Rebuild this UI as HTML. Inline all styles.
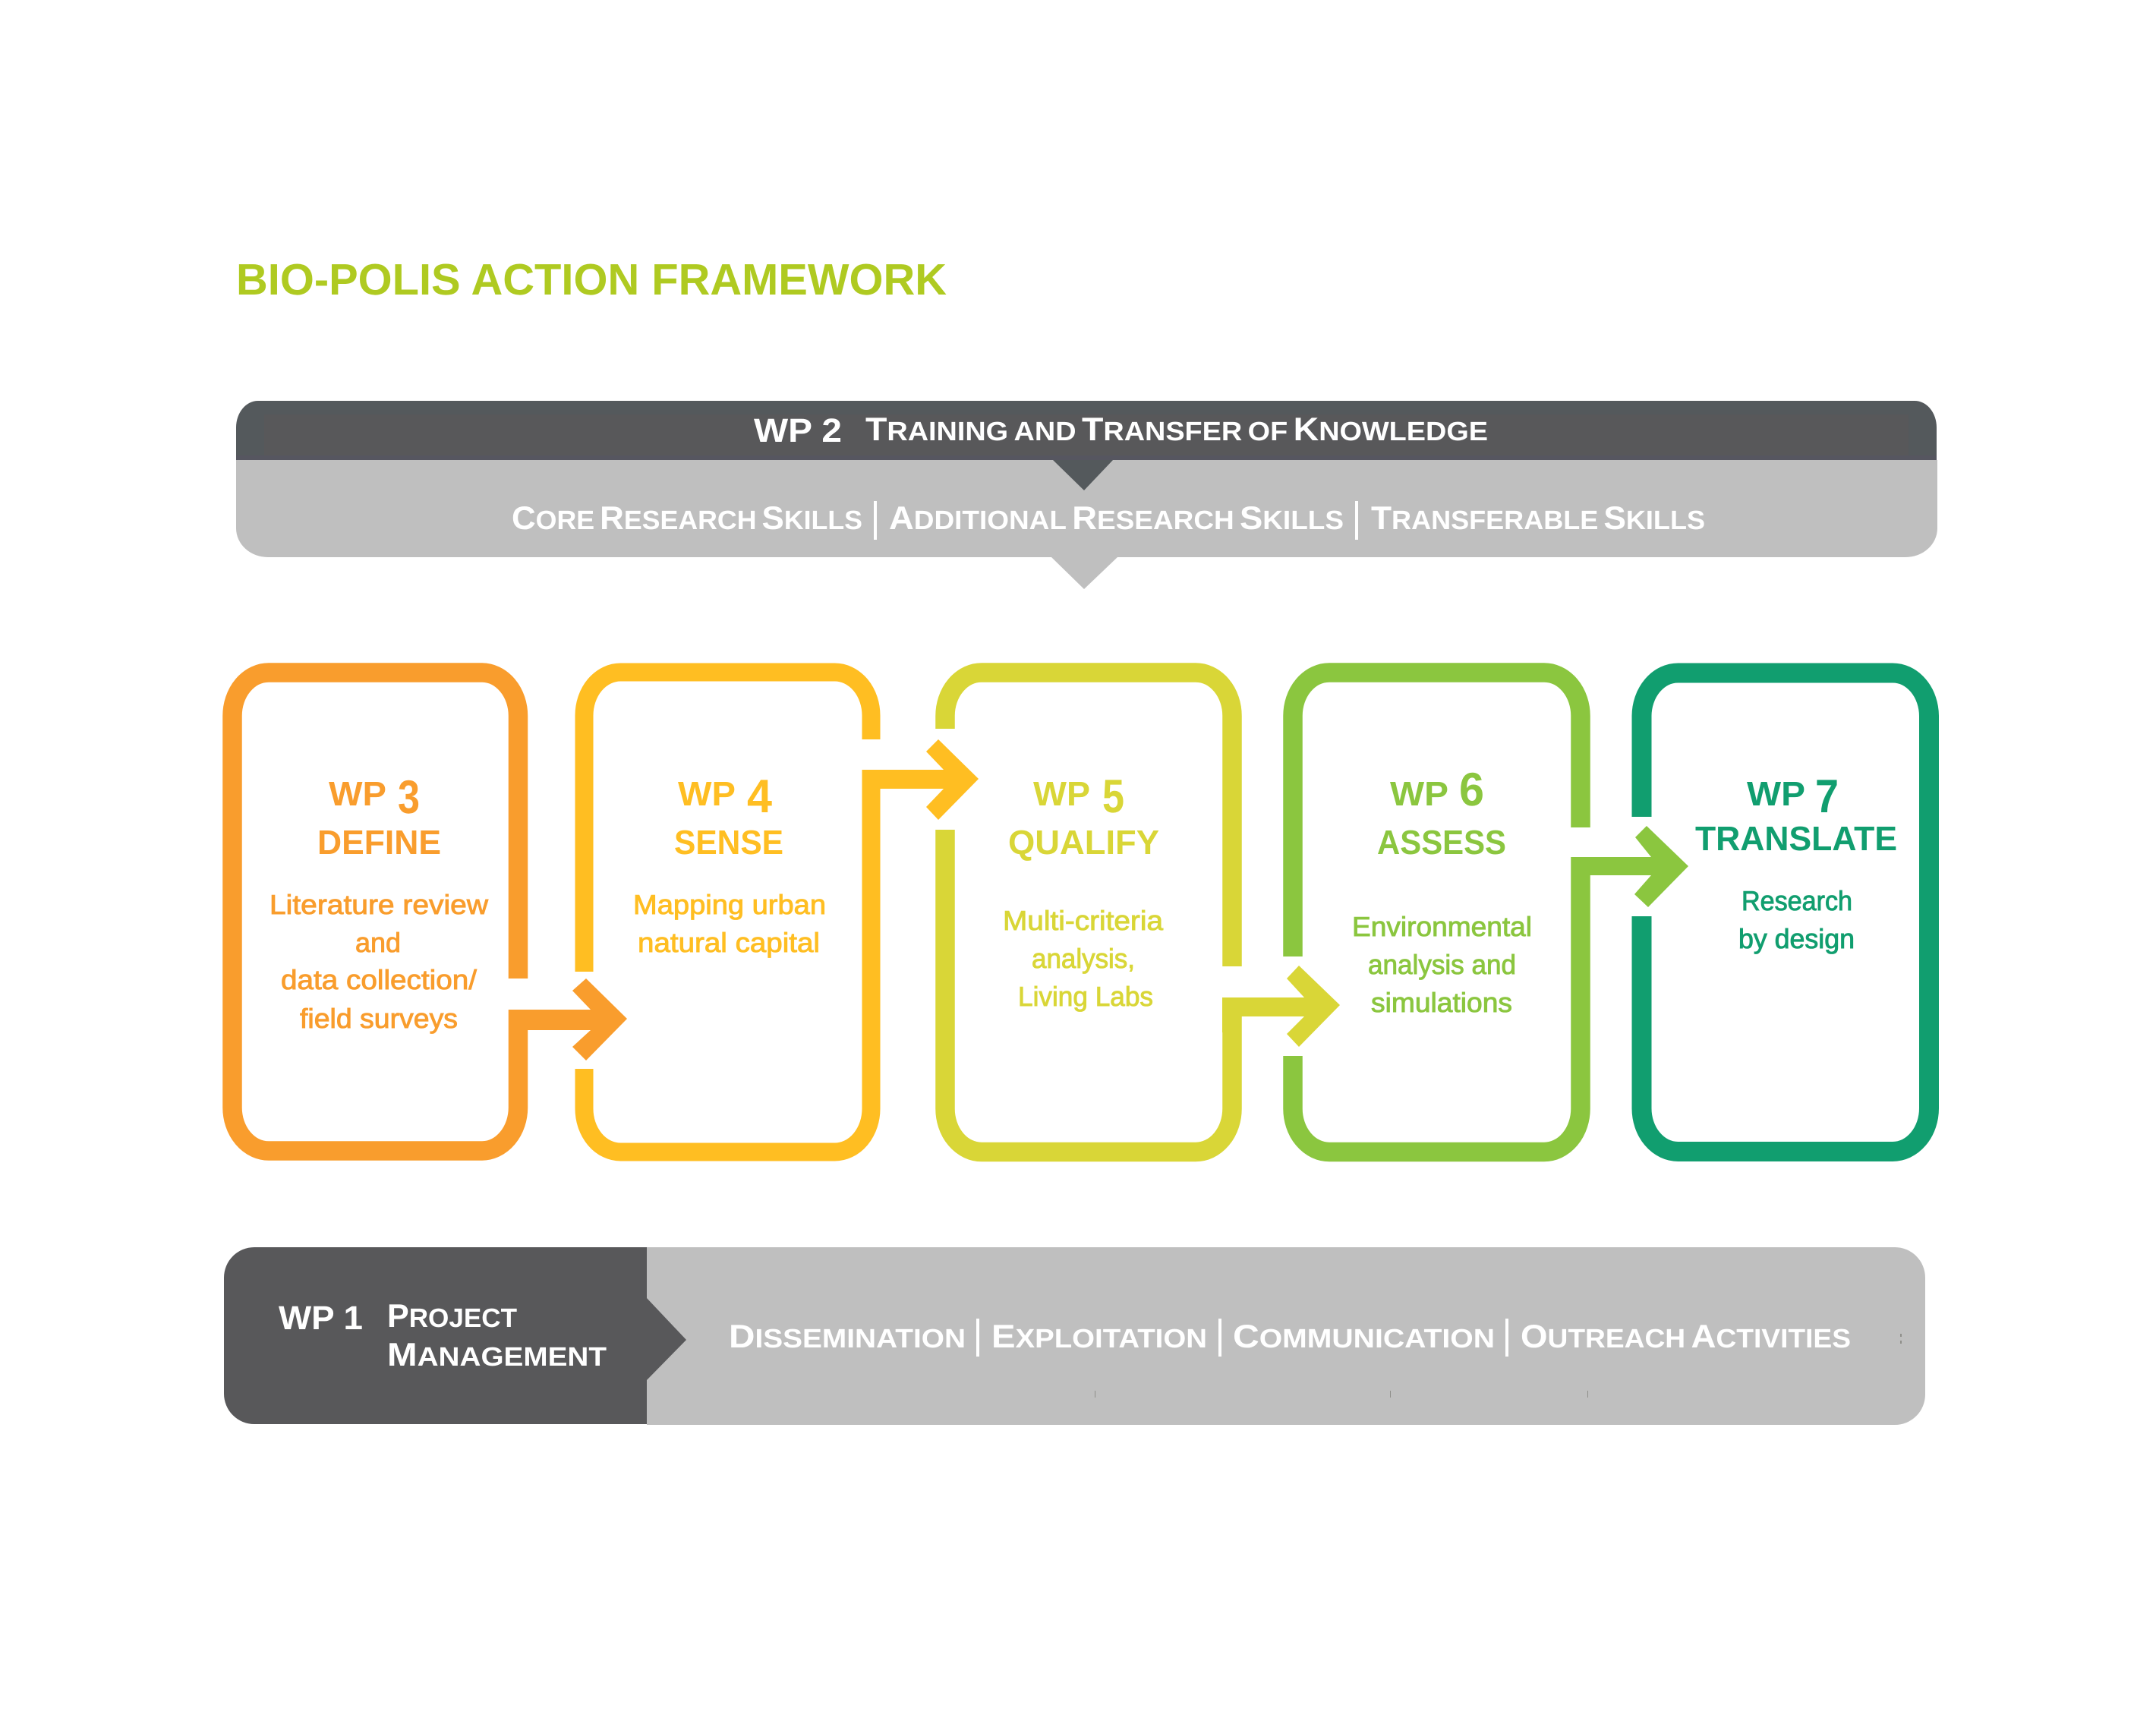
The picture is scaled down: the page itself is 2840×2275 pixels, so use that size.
<!DOCTYPE html>
<html lang="en">
<head>
<meta charset="utf-8">
<title>Bio-Polis Action Framework</title>
<style>
html,body{margin:0;padding:0;background:#fff;width:2840px;height:2275px;overflow:hidden}
svg{display:block}
text{font-family:"Liberation Sans",sans-serif;text-rendering:geometricPrecision}
.h{font-weight:700;font-size:45px}
.d{font-weight:700;font-size:62px}
.b{font-weight:400;font-size:36px;stroke-width:.9px}
.sc{font-weight:700;font-size:50px;font-variant:small-caps;fill:#fff;word-spacing:-7px}
.C{font-size:43px}
.wp{font-weight:700;font-size:44px;fill:#fff}
.o{fill:#f99d2d;stroke:#f99d2d}.y{fill:#ffbe22;stroke:#ffbe22}.l{fill:#d9d637;stroke:#d9d637}.g{fill:#8bc63f;stroke:#8bc63f}.t{fill:#119e6f;stroke:#119e6f}
.h,.d{stroke:none!important}
</style>
</head>
<body>
<svg xmlns="http://www.w3.org/2000/svg" width="2840" height="2275" viewBox="0 0 2840 2275">
<rect width="2840" height="2275" fill="#fff"/>

<text x="311" y="388" font-size="58" font-weight="700" fill="#afca21" textLength="936" lengthAdjust="spacingAndGlyphs">BIO-POLIS ACTION FRAMEWORK</text>

<!-- WP2 banner -->
<path d="M311 606V696A42 38 0 0 0 353 734H1385L1428 776L1472 734H2510A42 38 0 0 0 2552 696V606Z" fill="#bfbfbf"/>
<path d="M311 606V563A29 35 0 0 1 340 528H2522A29 35 0 0 1 2551 563V606H1466L1428 646L1387 606Z" fill="#54595c"/>
<rect x="348" y="546" width="2166" height="54" fill="#58585a"/>
<rect x="311" y="600" width="2240" height="6" fill="#565660"/>
<text class="wp" x="993" y="582" textLength="116" lengthAdjust="spacingAndGlyphs">WP 2</text>
<text class="sc" x="1140" y="580" textLength="820" lengthAdjust="spacingAndGlyphs"><tspan class="C">T</tspan>raining and <tspan class="C">T</tspan>ransfer of <tspan class="C">K</tspan>nowledge</text>
<text class="sc" x="674" y="697" textLength="462" lengthAdjust="spacingAndGlyphs"><tspan class="C">C</tspan>ore <tspan class="C">R</tspan>esearch <tspan class="C">S</tspan>kills</text>
<rect x="1151" y="660" width="4" height="51" fill="#fff"/>
<text class="sc" x="1171" y="697" textLength="599" lengthAdjust="spacingAndGlyphs"><tspan class="C">A</tspan>dditional <tspan class="C">R</tspan>esearch <tspan class="C">S</tspan>kills</text>
<rect x="1785" y="660" width="4" height="51" fill="#fff"/>
<text class="sc" x="1806" y="697" textLength="440" lengthAdjust="spacingAndGlyphs"><tspan class="C">T</tspan>ransferable <tspan class="C">S</tspan>kills</text>

<!-- Boxes -->
<g fill="none" stroke-width="25.5">
<path stroke="#f99d2d" d="M682.500 1289V943A48 57 0 0 0 634.500 886H354A48 57 0 0 0 306 943V1459A48 57 0 0 0 354 1516H634.500A48 57 0 0 0 682.500 1459V1330"/>
<path stroke="#ffbe22" stroke-width="24" d="M769.500 1280V943A48 57 0 0 1 817.500 885.500H1099.500A48 57 0 0 1 1147.500 943V974"/>
<path stroke="#ffbe22" stroke-width="24" d="M1147.500 1014V1460A48 57 0 0 1 1099.500 1517.500H817.500A48 57 0 0 1 769.500 1460V1408"/>
<path stroke="#d9d637" d="M1245 960V943A48 57 0 0 1 1293 886H1575A48 57 0 0 1 1623 943V1273"/>
<path stroke="#d9d637" d="M1623 1314V1460A48 57 0 0 1 1575 1517.500H1293A48 57 0 0 1 1245 1460V1093"/>
<path stroke="#8bc63f" d="M1703 1260V943A48 57 0 0 1 1751 886H2034A48 57 0 0 1 2082 943V1090"/>
<path stroke="#8bc63f" d="M2082 1129V1460A48 57 0 0 1 2034 1517.500H1751A48 57 0 0 1 1703 1460V1391"/>
<path stroke="#119e6f" stroke-width="26" d="M2162.500 1076V943A48 57 0 0 1 2210.500 886.500H2493A48 57 0 0 1 2541 943V1460A48 57 0 0 1 2493 1517H2210.500A48 57 0 0 1 2162.500 1460V1207"/>
</g>
<polygon fill="#f99d2d" points="670,1330 778,1330 754,1305 772,1289 826,1342 772,1397 754,1379 778,1357 695,1357 695,1380 670,1380"/>
<polygon fill="#ffbe22" points="1136,1014 1243,1014 1220,990 1236,974 1289,1026 1236,1080 1220,1063 1243,1039 1159,1039 1159,1060 1136,1060"/>
<polygon fill="#d9d637" points="1610,1314 1718,1314 1695,1289 1711,1272 1765,1324 1711,1379 1695,1362 1718,1339 1635,1339 1635,1360 1610,1360"/>
<polygon fill="#8bc63f" points="2070,1129 2175,1129 2154,1103 2169,1088 2224,1141 2171,1195 2153,1178 2175,1153 2094,1153 2094,1175 2070,1175"/>

<!-- box text -->
<text class="h o" x="433" y="1061" textLength="76" lengthAdjust="spacingAndGlyphs">WP</text>
<text class="d o" x="524" y="1071" textLength="29" lengthAdjust="spacingAndGlyphs">3</text>
<text class="h o" x="418" y="1125" textLength="163" lengthAdjust="spacingAndGlyphs">DEFINE</text>
<text class="b o" x="355" y="1204" textLength="288" lengthAdjust="spacingAndGlyphs">Literature review</text>
<text class="b o" x="468" y="1254" textLength="60" lengthAdjust="spacingAndGlyphs">and</text>
<text class="b o" x="370" y="1303" textLength="258" lengthAdjust="spacingAndGlyphs">data collection/</text>
<text class="b o" x="395" y="1354" textLength="208" lengthAdjust="spacingAndGlyphs">field surveys</text>

<text class="h y" x="893" y="1061" textLength="76" lengthAdjust="spacingAndGlyphs">WP</text>
<text class="d y" x="984" y="1070" textLength="33" lengthAdjust="spacingAndGlyphs">4</text>
<text class="h y" x="888" y="1125" textLength="144" lengthAdjust="spacingAndGlyphs">SENSE</text>
<text class="b y" x="834" y="1204" textLength="254" lengthAdjust="spacingAndGlyphs">Mapping urban</text>
<text class="b y" x="840" y="1254" textLength="240" lengthAdjust="spacingAndGlyphs">natural capital</text>

<text class="h l" x="1361" y="1061" textLength="75" lengthAdjust="spacingAndGlyphs">WP</text>
<text class="d l" x="1452" y="1070" textLength="29" lengthAdjust="spacingAndGlyphs">5</text>
<text class="h l" x="1328" y="1125" textLength="199" lengthAdjust="spacingAndGlyphs">QUALIFY</text>
<text class="b l" x="1321" y="1225" textLength="211" lengthAdjust="spacingAndGlyphs">Multi-criteria</text>
<text class="b l" x="1359" y="1275" textLength="136" lengthAdjust="spacingAndGlyphs">analysis,</text>
<text class="b l" x="1341" y="1325" textLength="178" lengthAdjust="spacingAndGlyphs">Living Labs</text>

<text class="h g" x="1831" y="1061" textLength="77" lengthAdjust="spacingAndGlyphs">WP</text>
<text class="d g" x="1922" y="1061" textLength="33" lengthAdjust="spacingAndGlyphs">6</text>
<text class="h g" x="1814" y="1125" textLength="170" lengthAdjust="spacingAndGlyphs">ASSESS</text>
<text class="b g" x="1781" y="1233" textLength="237" lengthAdjust="spacingAndGlyphs">Environmental</text>
<text class="b g" x="1802" y="1283" textLength="195" lengthAdjust="spacingAndGlyphs">analysis and</text>
<text class="b g" x="1806" y="1333" textLength="186" lengthAdjust="spacingAndGlyphs">simulations</text>

<text class="h t" x="2301" y="1061" textLength="77" lengthAdjust="spacingAndGlyphs">WP</text>
<text class="d t" x="2391" y="1070" textLength="31" lengthAdjust="spacingAndGlyphs">7</text>
<text class="h t" x="2233" y="1120" textLength="266" lengthAdjust="spacingAndGlyphs">TRANSLATE</text>
<text class="b t" x="2294" y="1199" textLength="146" lengthAdjust="spacingAndGlyphs">Research</text>
<text class="b t" x="2290" y="1249" textLength="153" lengthAdjust="spacingAndGlyphs">by design</text>

<!-- WP1 bar -->
<path d="M852 1643H2496A40 40 0 0 1 2536 1683V1837A40 40 0 0 1 2496 1877H852Z" fill="#bfbfbf"/>
<path d="M335 1643H852V1710L904 1765L852 1818V1876H335A40 40 0 0 1 295 1836V1683A40 40 0 0 1 335 1643Z" fill="#58585a"/>
<text class="wp" x="367" y="1751" textLength="111" lengthAdjust="spacingAndGlyphs">WP 1</text>
<text class="sc" x="510" y="1748" textLength="171" lengthAdjust="spacingAndGlyphs"><tspan class="C">P</tspan>roject</text>
<text class="sc" x="510" y="1799" textLength="289" lengthAdjust="spacingAndGlyphs"><tspan class="C">M</tspan>anagement</text>
<text class="sc" x="960" y="1775" textLength="312" lengthAdjust="spacingAndGlyphs"><tspan class="C">D</tspan>issemination</text>
<rect x="1286" y="1737" width="4" height="50" fill="#fff"/>
<text class="sc" x="1306" y="1775" textLength="284" lengthAdjust="spacingAndGlyphs"><tspan class="C">E</tspan>xploitation</text>
<rect x="1605" y="1737" width="4" height="50" fill="#fff"/>
<text class="sc" x="1624" y="1775" textLength="345" lengthAdjust="spacingAndGlyphs"><tspan class="C">C</tspan>ommunication</text>
<rect x="1983" y="1737" width="4" height="50" fill="#fff"/>
<text class="sc" x="2003" y="1775" textLength="435" lengthAdjust="spacingAndGlyphs"><tspan class="C">O</tspan>utreach <tspan class="C">A</tspan>ctivities</text>
<g fill="#8f8f8a">
<rect x="1442" y="1832" width="1" height="9"/>
<rect x="1831" y="1832" width="1" height="9"/>
<rect x="2091" y="1832" width="1" height="9"/>
<rect x="2503" y="1757" width="2" height="4"/>
<rect x="2503" y="1766" width="2" height="4"/>
</g>
</svg>
</body>
</html>
